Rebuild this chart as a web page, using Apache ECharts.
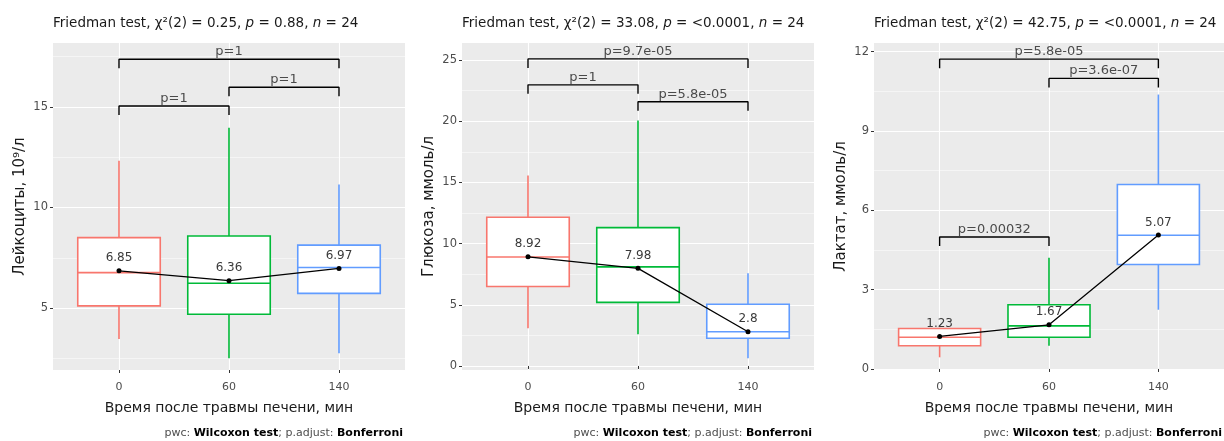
<!DOCTYPE html>
<html>
<head>
<meta charset="utf-8">
<script src="https://cdn.jsdelivr.net/npm/echarts@6/dist/echarts.min.js"></script>
<style>
html,body{margin:0;padding:0;background:#fff;}
#chart{width:1224px;height:441px;}
</style>
</head>
<body>
<div id="chart"></div>
<script>
// ---------- data ----------
const categories = ['0', '60', '140'];
const groupColors = ['#F8766D', '#00BA38', '#619CFF'];

// [whisker low, Q1, median, Q3, whisker high]
const leukoStats = [[3.46, 5.11, 6.76, 8.50, 12.33], [2.50, 4.69, 6.23, 8.58, 13.96], [2.75, 5.73, 7.02, 8.13, 11.15]];
const leukoMeans = [6.85, 6.36, 6.97];
const leukoBracketFrom = [1, 2, 1];
const leukoBracketTo = [3, 3, 2];
const leukoBracketY = [17.37, 15.98, 15.05];
const leukoBracketLabels = ['p=1', 'p=1', 'p=1'];
const leukoTicks = [5, 10, 15];
const leukoMinor = [2.5, 7.5, 12.5, 17.5];

const glucoseStats = [[3.08, 6.49, 8.91, 12.16, 15.56], [2.59, 5.20, 8.10, 11.31, 20.06], [0.63, 2.26, 2.80, 5.04, 7.58]];
const glucoseMeans = [8.92, 7.98, 2.8];
const glucoseBracketFrom = [1, 1, 2];
const glucoseBracketTo = [3, 2, 3];
const glucoseBracketY = [25.1, 22.98, 21.6];
const glucoseBracketLabels = ['p=9.7e-05', 'p=1', 'p=5.8e-05'];
const glucoseTicks = [0, 5, 10, 15, 20, 25];
const glucoseMinor = [2.5, 7.5, 12.5, 17.5, 22.5];

const lactateStats = [[0.44, 0.88, 1.20, 1.53, 1.56], [0.88, 1.20, 1.63, 2.43, 4.21], [2.24, 3.95, 5.06, 6.98, 10.38]];
const lactateMeans = [1.23, 1.67, 5.07];
const lactateBracketFrom = [1, 2, 1];
const lactateBracketTo = [3, 3, 2];
const lactateBracketY = [11.72, 10.99, 4.99];
const lactateBracketLabels = ['p=5.8e-05', 'p=3.6e-07', 'p=0.00032'];
const lactateTicks = [0, 3, 6, 9, 12];
const lactateMinor = [1.5, 4.5, 7.5, 10.5];

const titles = [
  'Friedman test, χ²(2) = 0.25, {i|p} = 0.88, {i|n} = 24',
  'Friedman test, χ²(2) = 33.08, {i|p} = <0.0001, {i|n} = 24',
  'Friedman test, χ²(2) = 42.75, {i|p} = <0.0001, {i|n} = 24'
];
const yNames = ['Лейкоциты, 10⁹/л', 'Глюкоза, ммоль/л', 'Лактат, ммоль/л'];
const xName = 'Время после травмы печени, мин';

// ---------- layout ----------
const FONT = '"DejaVu Sans", "Liberation Sans", Arial, sans-serif';
const panels = [
  { left: 53, width: 352, ymin: 1.92, ymax: 18.18, stats: leukoStats, means: leukoMeans,
    bf: leukoBracketFrom, bt: leukoBracketTo, by: leukoBracketY, bl: leukoBracketLabels, ticks: leukoTicks, minor: leukoMinor },
  { left: 462, width: 352, ymin: -0.33, ymax: 26.4, stats: glucoseStats, means: glucoseMeans,
    bf: glucoseBracketFrom, bt: glucoseBracketTo, by: glucoseBracketY, bl: glucoseBracketLabels, ticks: glucoseTicks, minor: glucoseMinor },
  { left: 874, width: 350, ymin: -0.04, ymax: 12.33, stats: lactateStats, means: lactateMeans,
    bf: lactateBracketFrom, bt: lactateBracketTo, by: lactateBracketY, bl: lactateBracketLabels, ticks: lactateTicks, minor: lactateMinor }
];
const GRID_TOP = 43, GRID_H = 327;
const BOX_HALF = 0.375;
const TIP_PX = 9;

const option = {
  animation: false,
  backgroundColor: '#ffffff',
  textStyle: { fontFamily: FONT },
  title: [], grid: [], xAxis: [], yAxis: [], series: []
};

function renderBox(params, api) {
  const x = api.value(0);
  const lo = api.value(1), q1 = api.value(2), med = api.value(3), q3 = api.value(4), hi = api.value(5);
  const color = groupColors[params.dataIndex];
  const tl = api.coord([x - BOX_HALF, q3]);
  const br = api.coord([x + BOX_HALF, q1]);
  const pHi = api.coord([x, hi]), pQ3 = api.coord([x, q3]), pQ1 = api.coord([x, q1]), pLo = api.coord([x, lo]);
  const mL = api.coord([x - BOX_HALF, med]), mR = api.coord([x + BOX_HALF, med]);
  const st = { stroke: color, lineWidth: 1.6, fill: null };
  return {
    type: 'group',
    children: [
      { type: 'line', shape: { x1: pHi[0], y1: pHi[1], x2: pQ3[0], y2: pQ3[1] }, style: st },
      { type: 'line', shape: { x1: pQ1[0], y1: pQ1[1], x2: pLo[0], y2: pLo[1] }, style: st },
      { type: 'rect', shape: { x: tl[0], y: tl[1], width: br[0] - tl[0], height: br[1] - tl[1] },
        style: { fill: '#ffffff', stroke: color, lineWidth: 1.6 } },
      { type: 'line', shape: { x1: mL[0], y1: mL[1], x2: mR[0], y2: mR[1] }, style: st }
    ]
  };
}

panels.forEach((p, i) => {
  const tipVal = (p.ymax - p.ymin) * TIP_PX / GRID_H;
  option.title.push({
    text: titles[i], left: p.left, top: 16, padding: 0,
    textStyle: { fontFamily: FONT, fontSize: 13.5, fontWeight: 'normal', color: '#1a1a1a',
      rich: { i: { fontFamily: FONT, fontSize: 13.5, fontStyle: 'italic', color: '#1a1a1a' } } }
  });
  option.title.push({
    text: 'pwc: {b|Wilcoxon test}; p.adjust: {b|Bonferroni}', padding: 0,
    right: 1224 - (p.left + p.width) + 2, top: 428,
    textStyle: { fontFamily: FONT, fontSize: 11, fontWeight: 'normal', color: '#4d4d4d',
      rich: { b: { fontFamily: FONT, fontSize: 11, fontWeight: 'bold', color: '#000' } } }
  });
  option.grid.push({
    left: p.left, top: GRID_TOP, width: p.width, height: GRID_H,
    show: true, backgroundColor: '#EBEBEB', borderWidth: 0
  });
  option.xAxis.push({
    type: 'value', gridIndex: i, min: 0.4, max: 3.6,
    name: xName, nameLocation: 'middle', nameGap: 31,
    nameTextStyle: { fontFamily: FONT, fontSize: 14, color: '#1a1a1a' },
    axisLine: { show: false },
    axisTick: { show: true, length: 3, customValues: [1, 2, 3], lineStyle: { color: '#333', width: 1 } },
    axisLabel: { customValues: [1, 2, 3], margin: 12, fontSize: 11, color: '#4d4d4d', fontFamily: FONT,
      formatter: v => categories[Math.round(v) - 1] },
    splitLine: { show: true, lineStyle: { color: '#ffffff', width: 1.1 } }
  });
  option.yAxis.push({
    type: 'value', gridIndex: i, min: p.ymin, max: p.ymax, position: 'left',
    name: yNames[i], nameLocation: 'middle', nameGap: 25, nameRotate: 90,
    nameTextStyle: { fontFamily: FONT, fontSize: 15, color: '#1a1a1a' },
    axisLine: { show: false },
    axisTick: { show: true, length: 3, customValues: p.ticks, lineStyle: { color: '#333', width: 1 } },
    axisLabel: { customValues: p.ticks, margin: 5, fontSize: 11.5, color: '#4d4d4d', fontFamily: FONT },
    splitLine: { show: true, lineStyle: { color: '#ffffff', width: 1.1 } }
  });
  option.yAxis.push({
    type: 'value', gridIndex: i, min: p.ymin, max: p.ymax, position: 'right',
    axisLine: { show: false },
    axisTick: { show: false, customValues: p.minor },
    axisLabel: { show: false, customValues: p.minor },
    splitLine: { show: true, lineStyle: { color: '#ffffff', width: 0.5 } }
  });
  const yIdx = i * 2;
  // boxes
  option.series.push({
    type: 'custom', xAxisIndex: i, yAxisIndex: yIdx, z: 2,
    renderItem: renderBox,
    encode: { x: 0, y: [1, 2, 3, 4, 5] },
    data: p.stats.map((s, k) => [k + 1].concat(s))
  });
  // mean line
  option.series.push({
    type: 'line', xAxisIndex: i, yAxisIndex: yIdx, z: 4,
    data: p.means.map((m, k) => [k + 1, m]),
    symbol: 'circle', symbolSize: 5,
    itemStyle: { color: '#000' },
    lineStyle: { color: '#000', width: 1.3 },
    label: { show: true, position: 'top', distance: 4, fontSize: 12, fontFamily: FONT, color: '#3a3a3a',
      formatter: d => String(p.means[d.dataIndex]) }
  });
  // brackets
  p.by.forEach((yv, b) => {
    option.series.push({
      type: 'line', xAxisIndex: i, yAxisIndex: yIdx, z: 5,
      data: [[p.bf[b], yv - tipVal], [p.bf[b], yv], [p.bt[b], yv], [p.bt[b], yv - tipVal]],
      symbol: 'none', lineStyle: { color: '#000', width: 1.4 }
    });
  });
  option.series.push({
    type: 'scatter', xAxisIndex: i, yAxisIndex: yIdx, z: 5,
    data: p.by.map((yv, b) => [(p.bf[b] + p.bt[b]) / 2, yv]),
    symbolSize: 0,
    label: { show: true, position: 'top', distance: 1, fontSize: 13, fontFamily: FONT, color: '#222',
      formatter: d => p.bl[d.dataIndex] }
  });
});

const chart = echarts.init(document.getElementById('chart'), null, { renderer: 'canvas' });
chart.setOption(option);
</script>
</body>
</html>
